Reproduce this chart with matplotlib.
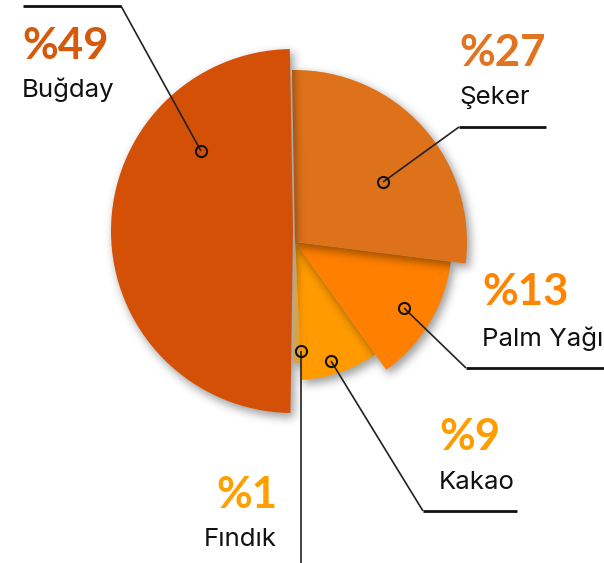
import matplotlib
matplotlib.use("Agg")
import matplotlib.pyplot as plt
import matplotlib.patches as mpatches
import numpy as np

W, H = 604, 563

# data (clockwise from the top)
labels = ["Şeker", "Palm Yağı", "Kakao", "Fındık", "Buğday"]
values = [27, 13, 9, 1, 49]

# styles
colors = ["#DE721A", "#FF8000", "#FF9A00", "#D9A247", "#D35006"]
num_colors = ["#E07420", "#FF8400", "#FF9C00", "#FFA000", "#D55A0C"]
radii = [172, 157, 138, 121, 182]
centers = [(295, 242), (295, 242), (295, 242), (295, 242), (293, 231)]
layers = [8, 6, 4, 12, 10]
shadow_layers = [7, 5, 3, 1, 9]

# label layout in pixels (y downward): circle, elbow, line end, text x, number baseline, name baseline, align
dots = [(383, 182), (404, 308), (331, 361), (301, 351), (201, 151)]
elbows = [(459, 127), (466, 368), (423, 511), (301, 563), (121, 6)]
ends = [(546, 127), (604, 368), (517, 511), (301, 563), (23, 6)]
text_x = [459, 482, 439, 277, 22]
num_base = [66, 305, 450, 508, 59]
name_base = [104, 346, 489, 546, 97]
aligns = ["left", "left", "left", "right", "left"]


def px(p):
    return p[0], H - p[1]


class Shadow:
    def __init__(self, sigma=4.5, alpha=0.38, dx=3, dy=4):
        self.sigma, self.alpha, self.dx, self.dy = sigma, alpha, dx, dy

    def __call__(self, im, dpi):
        pad = int(self.sigma * 3) + 2
        a = np.pad(im[:, :, 3], pad)
        x = np.arange(-pad, pad + 1)
        k = np.exp(-x ** 2 / (2 * self.sigma ** 2))
        k /= k.sum()
        a = np.apply_along_axis(lambda r: np.convolve(r, k, mode="same"), 0, a)
        a = np.apply_along_axis(lambda r: np.convolve(r, k, mode="same"), 1, a)
        out = np.zeros(a.shape + (4,))
        out[..., 3] = np.clip(a * self.alpha, 0, 1)
        return out, -pad + self.dx, -pad - self.dy


fig = plt.figure(figsize=(W / 100, H / 100), dpi=100)
ax = fig.add_axes([0, 0, 1, 1])

wedges, _ = ax.pie(values, startangle=91, counterclock=False, colors=colors)
for w, r, c, z, zs in zip(wedges, radii, centers, layers, shadow_layers):
    w.set_radius(r)
    w.set_center(px(c))
    w.set_zorder(z)
    sh = mpatches.Wedge(px(c), r, w.theta1, w.theta2, color="k", zorder=zs)
    sh.set_agg_filter(Shadow())
    ax.add_patch(sh)

for i in range(len(values)):
    xs, ys = zip(*[px(dots[i]), px(elbows[i]), px(ends[i])])
    ax.plot(xs[:2], ys[:2], color="#222222", lw=1.2, zorder=20, solid_capstyle="butt")
    ax.plot(xs[1:], ys[1:], color="#111111", lw=2.0, zorder=20, solid_capstyle="butt")
    ax.plot(xs[0], ys[0], "o", ms=8, mfc="none", mec="#111111", mew=1.5, zorder=21)
    ax.text(text_x[i], H - num_base[i], f"%{values[i]}", color=num_colors[i],
            fontsize=31.5, fontweight="bold", family="Lato", ha=aligns[i], va="baseline")
    ax.text(text_x[i], H - name_base[i], labels[i], color="#111111",
            fontsize=18.6, family="Inter", ha=aligns[i], va="baseline")

ax.set_xlim(0, W)
ax.set_ylim(0, H)
ax.set_aspect("auto")
ax.axis("off")

fig.savefig("out.png", dpi=100)
